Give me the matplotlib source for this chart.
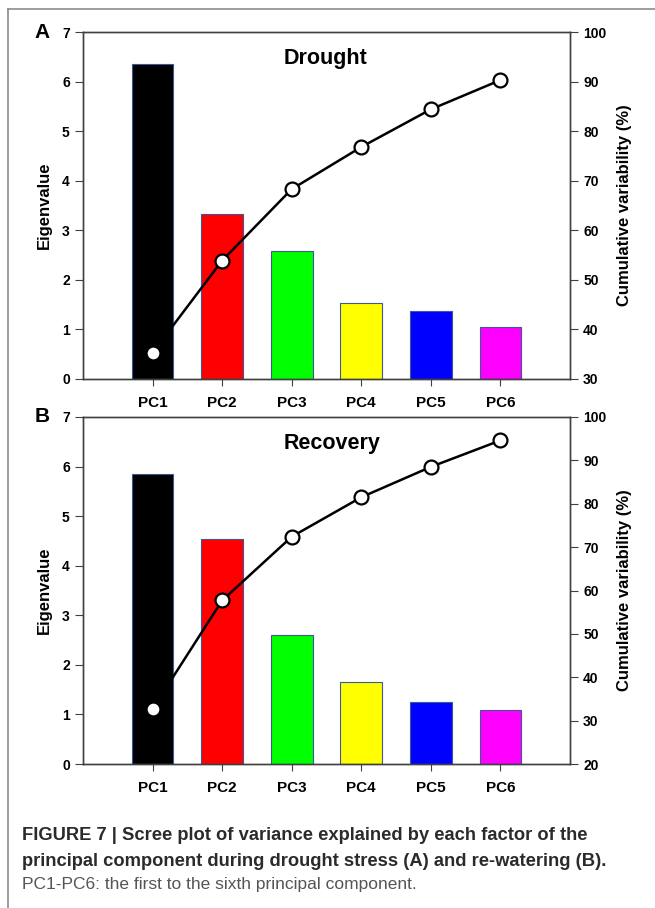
import matplotlib
matplotlib.use("Agg")
import matplotlib.pyplot as plt
from matplotlib.lines import Line2D

# data
pcs = ["PC1", "PC2", "PC3", "PC4", "PC5", "PC6"]
bar_colors = ["#000000", "#FF0000", "#00FF00", "#FFFF00", "#0000FF", "#FF00FF"]

drought_eigen = [6.35, 3.33, 2.59, 1.53, 1.38, 1.04]
drought_cum = [35.3, 53.9, 68.3, 76.8, 84.4, 90.3]

recovery_eigen = [5.85, 4.53, 2.60, 1.645, 1.26, 1.09]
recovery_cum = [32.7, 57.7, 72.4, 81.5, 88.5, 94.6]

plt.rcParams['font.family'] = ['Liberation Sans', 'DejaVu Sans']

fig = plt.figure(figsize=(6.55, 9.08), dpi=100)

# gray frame of the journal figure box
fig.add_artist(Line2D([7.5/655, 7.5/655], [0, 1 - 8.5/908], color="#8c8c8c", lw=1.2))
fig.add_artist(Line2D([7.5/655, 1], [1 - 8.5/908, 1 - 8.5/908], color="#8c8c8c", lw=1.2))

axc = "#404040"


def panel(rect, eigen, cum, title, title_x, letter, rlim, rticks):
    ax = fig.add_axes(rect)
    x = list(range(1, len(pcs) + 1))
    ax.bar(x, eigen, width=0.6, color=bar_colors, edgecolor="#3b5998", linewidth=0.8, zorder=2)
    ax.set_xlim(0, 7)
    ax.set_ylim(0, 7)
    ax.set_yticks(range(0, 8))
    ax.set_xticks(x)
    ax.set_xticklabels(pcs, fontsize=11, fontweight="bold")
    ax.set_ylabel("Eigenvalue", fontsize=12, fontweight="bold")
    ax.yaxis.set_label_coords(-0.064, 0.5)
    for s in ax.spines.values():
        s.set_color(axc)
        s.set_linewidth(1.0)
    ax.tick_params(axis="y", direction="out", length=5.5, color=axc, labelsize=10, pad=4)
    ax.tick_params(axis="x", direction="out", length=5, color=axc, pad=7)
    for lab in ax.get_yticklabels():
        lab.set_fontweight("bold")
    ax.text(title_x, 6.47, title, ha="center", va="center", fontsize=15.5, fontweight="bold")
    # panel letter, just left of the top tick label
    fig.text(50/655, rect[1] + rect[3], letter, ha="right", va="center",
             fontsize=15, fontweight="bold")

    ax2 = ax.twinx()
    ax2.plot(x, cum, color="black", lw=1.8, marker="o", ms=10, mfc="white",
             mec="black", mew=1.6, zorder=3)
    ax2.set_ylim(*rlim)
    ax2.set_yticks(rticks)
    ax2.set_ylabel("Cumulative variability (%)", fontsize=12, fontweight="bold")
    ax2.yaxis.set_label_coords(1.097, 0.5)
    ax2.tick_params(axis="y", direction="out", length=5.5, color=axc, labelsize=10, pad=4)
    for lab in ax2.get_yticklabels():
        lab.set_fontweight("bold")
    for s in ax2.spines.values():
        s.set_color(axc)
        s.set_linewidth(1.0)
    return ax


axA = panel([83/655, 1 - 379/908, 487/655, 347/908], drought_eigen, drought_cum,
            "Drought", 3.49, "A", (30, 100), range(30, 101, 10))
axB = panel([83/655, 1 - 764/908, 487/655, 347/908], recovery_eigen, recovery_cum,
            "Recovery", 3.58, "B", (20, 100), range(20, 101, 10))

cap_col = "#2b2b2b"
fig.text(22/655, 1 - 835/908, "FIGURE 7 | Scree plot of variance explained by each factor of the",
         fontsize=13.2, fontweight="bold", color=cap_col, va="center")
fig.text(22/655, 1 - 861/908, "principal component during drought stress (A) and re-watering (B).",
         fontsize=13.2, fontweight="bold", color=cap_col, va="center")
fig.text(22/655, 1 - 885/908, "PC1-PC6: the first to the sixth principal component.",
         fontsize=12.5, color="#555555", va="center")

fig.savefig("out.png", dpi=100)
